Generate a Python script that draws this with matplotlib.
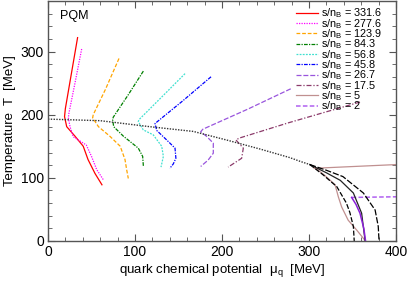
import matplotlib
matplotlib.use('Agg')
import matplotlib.pyplot as plt
from matplotlib.ticker import MultipleLocator

plt.rcParams['font.family'] = ['Liberation Sans', 'DejaVu Sans']
plt.rcParams['mathtext.fontset'] = 'custom'
plt.rcParams['mathtext.rm'] = 'Liberation Sans'

# isentropes (mu_q [MeV], T [MeV])
mu_331 = [34, 27, 20, 19, 21.5, 31, 40.5, 46, 54, 62]
T_331 = [322, 266, 210, 197, 181, 166, 150, 129, 107, 89]

mu_277 = [38.7, 31, 24, 23.4, 25.3, 29, 44, 50, 56, 63.6]
T_277 = [304, 250, 202, 195, 181, 165, 152, 134, 113, 97]

mu_123 = [81.6, 66, 52, 51.3, 58, 71, 83, 88.5, 90.4, 92.3]
T_123 = [289, 240, 200, 195, 181, 166, 150, 129, 113, 99]

mu_84 = [109.6, 92, 75, 74.3, 75.5, 86.6, 103.8, 108.8, 109.6]
T_84 = [269, 231, 196, 192, 181, 166, 147, 134, 119]

mu_56 = [157.5, 130, 104.5, 103.8, 109.5, 121, 130.7, 132.6, 129.9]
T_56 = [265, 227, 192, 189, 176, 168, 150, 134, 117]

mu_45 = [187.4, 155, 123, 125, 136.4, 146, 147, 144, 140]
T_45 = [260, 222, 186, 175, 160, 147, 131, 122, 115]

mu_26 = [279, 230, 178, 175.5, 182, 190, 190, 184, 175.5]
T_26 = [241, 209, 177, 173, 166, 155, 139, 128, 118]

mu_17 = [358.6, 276, 220, 216, 224.5, 222.6, 207]
T_17 = [220, 187, 163, 160, 147, 131, 117]

mu_5a = [306, 320, 400]
T_5a = [115, 116, 121]
mu_5b = [305, 318, 330, 333.7, 337.5, 345, 355, 364.4]
T_5b = [118, 104, 89, 70, 54, 33, 17, 1]

mu_2a = [349, 400]
T_2a = [69, 70]
mu_2b = [349, 354, 358.6, 363, 365]
T_2b = [69, 58, 44, 20, 0]

# crossover line and first-order region boundaries
mu_cross = [0, 60, 117, 167, 205, 244, 278, 290, 301]
T_cross = [193, 190.5, 181, 173.5, 160, 145.5, 132, 126, 121]

mu_in = [301, 316, 332, 343, 347, 351, 352]
T_in = [121, 105, 86, 60, 45, 23, 0]
mu_mid = [301, 320, 336, 351, 360.5, 364.5]
T_mid = [121, 108, 96, 76, 44, 0]
mu_out = [301, 320, 339, 362.5, 376, 379.6, 380.5]
T_out = [121, 112, 102, 76, 49, 23, 0]

fig = plt.figure(figsize=(4.07, 2.81), dpi=100)
ax = fig.add_axes([48/407, 40/281, 348/407, 240/281])

lw = 0.9
ax.plot(mu_331, T_331, color='red', lw=lw, ls='-', label='s/n$_\\mathrm{B}$ = 331.6')
ax.plot(mu_277, T_277, color='magenta', lw=lw, ls=(0, (1, 1)), label='s/n$_\\mathrm{B}$ = 277.6')
ax.plot(mu_123, T_123, color='orange', lw=lw, ls=(0, (3, 1.5)), label='s/n$_\\mathrm{B}$ = 123.9')
ax.plot(mu_84, T_84, color='green', lw=lw, ls=(0, (3, 1, 1, 1)), label='s/n$_\\mathrm{B}$ = 84.3')
ax.plot(mu_56, T_56, color='turquoise', lw=lw, ls=(0, (1.5, 1)), label='s/n$_\\mathrm{B}$ = 56.8')
ax.plot(mu_45, T_45, color='blue', lw=lw, ls=(0, (3, 1, 1, 1)), label='s/n$_\\mathrm{B}$ = 45.8')
ax.plot(mu_26, T_26, color='#9955dd', lw=lw, ls=(0, (4, 1.5)), label='s/n$_\\mathrm{B}$ = 26.7')
ax.plot(mu_17, T_17, color='#8b3a6a', lw=lw, ls=(0, (4, 1.5, 1, 1.5)), label='s/n$_\\mathrm{B}$ = 17.5')
ax.plot(mu_5a, T_5a, color='#c09090', lw=lw, ls='-', label='s/n$_\\mathrm{B}$ = 5')
ax.plot(mu_2a, T_2a, color='#b060f0', lw=1.1, ls=(0, (3, 1.5)), label='s/n$_\\mathrm{B}$ = 2')
ax.plot(mu_5b, T_5b, color='#c09090', lw=lw, ls='-')

ax.plot(mu_cross, T_cross, color='#333333', lw=1.0, ls=(0, (1, 1)))
ax.plot(mu_in, T_in, color='black', lw=lw, ls=(0, (4, 1.5)))
ax.plot(mu_mid, T_mid, color='#222222', lw=lw, ls='-')
ax.plot(mu_out, T_out, color='black', lw=lw, ls=(0, (5, 1.5)))
ax.plot(mu_2b, T_2b, color='#8a20d8', lw=1.1, ls='-')

ax.set_xlim(0, 400)
ax.set_ylim(0, 380)
ax.xaxis.set_major_locator(MultipleLocator(100))
ax.xaxis.set_minor_locator(MultipleLocator(20))
ax.yaxis.set_major_locator(MultipleLocator(100))
ax.yaxis.set_minor_locator(MultipleLocator(20))
ax.tick_params(which='both', direction='in', top=True, right=True, color='#555555', labelsize=10)
ax.tick_params(which='major', length=5, width=0.8, pad=3)
ax.tick_params(which='minor', length=3, width=0.6)
for s in ax.spines.values():
    s.set_color('#555555')
    s.set_linewidth(1.0)

ax.set_xlabel('quark chemical potential  μ$_\\mathrm{q}$  [MeV]', fontsize=9.5, labelpad=2)
ax.set_ylabel('Temperature  T  [MeV]', fontsize=9.5, labelpad=3)
ax.text(14, 352, 'PQM', fontsize=9)

leg = ax.legend(loc='upper right', bbox_to_anchor=(0.975, 1.0), frameon=False, fontsize=7.8,
                handlelength=2.0, handletextpad=0.3, labelspacing=-0.32, borderaxespad=0.1)

fig.savefig('out.png', dpi=100)
